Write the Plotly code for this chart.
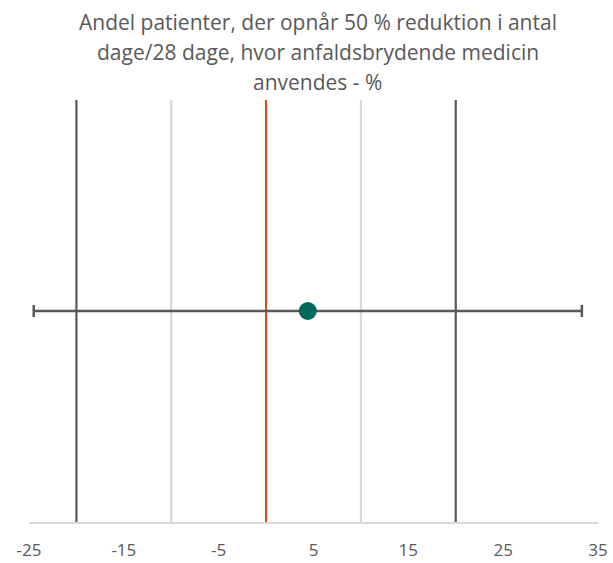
import plotly.graph_objects as go

# Data
title_lines = [
    "Andel patienter, der opnår 50 % reduktion i antal",
    "dage/28 dage, hvor anfaldsbrydende medicin",
    "anvendes - %",
]
ref_lines_x = [-20, -10, 0, 10, 20]
ref_lines_color = ["#595959", "#d9d9d9", "#c55a11", "#d9d9d9", "#595959"]
point_x = [4.4]
point_y = [1]
err_x = [28.9]
tick_vals = [-25, -15, -5, 5, 15, 25, 35]
tick_text = ["-25", "-15", "-5", "5", "15", "25", "35"]

W, H = 613, 563
ml = 28.5
mr = W - 598.5
mt = 100
mb = H - 522

FONT = "Open Sans, sans-serif"

fig = go.Figure()
for xv, col in zip(ref_lines_x, ref_lines_color):
    fig.add_trace(go.Scatter(x=[xv, xv], y=[0, 2], mode="lines",
                             line=dict(color=col, width=2.2),
                             hoverinfo="skip", showlegend=False, cliponaxis=False))

fig.add_trace(go.Scatter(
    x=point_x, y=point_y, mode="markers",
    marker=dict(color="#00695c", size=18, line=dict(width=0)),
    error_x=dict(type="data", array=err_x, visible=True, color="#595959",
                 thickness=2.5, width=6),
    showlegend=False,
))

plot_w = W - ml - mr
plot_h = H - mt - mb
annots = []
for i, t in enumerate(title_lines):
    ypix = 22 + 30 * i
    annots.append(dict(text=t, xref="paper", yref="paper",
                       x=(318 - ml) / plot_w, y=(H - mb - ypix) / plot_h,
                       xanchor="center", yanchor="middle", showarrow=False,
                       font=dict(family=FONT, size=21, color="#595959")))

fig.update_layout(
    width=W, height=H,
    margin=dict(l=ml, r=mr, t=mt, b=mb, pad=0, autoexpand=False),
    plot_bgcolor="white", paper_bgcolor="white",
    annotations=annots,
    xaxis=dict(range=[-25, 35], tickvals=tick_vals, ticktext=tick_text,
               showgrid=False, zeroline=False, showline=True, automargin=False,
               linecolor="#d9d9d9", linewidth=2, ticks="", ticklabelstandoff=12,
               tickfont=dict(family=FONT, size=17, color="#595959")),
    yaxis=dict(range=[0, 2], showgrid=False, zeroline=False, showline=False,
               showticklabels=False, ticks="", automargin=False),
)

fig.write_html("out.html", config={"displayModeBar": False},
               post_script="document.body.style.margin='0';document.body.style.overflow='hidden';")
